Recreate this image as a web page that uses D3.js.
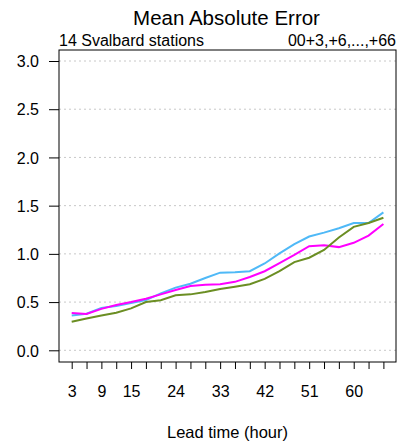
<!DOCTYPE html>
<html><head><meta charset="utf-8">
<script src="https://cdn.jsdelivr.net/npm/d3@7"></script>
<style>body{margin:0;background:#fff}svg{display:block;font-family:"Liberation Sans",Arial,sans-serif}</style>
</head><body>
<svg id="c" width="408" height="445"></svg>
<script>
const leadTimes = [3,6,9,12,15,18,21,24,27,30,33,36,39,42,45,48,51,54,57,60,63,66];
const xLabels = [3,9,15,24,33,42,51,60];
const yTicks = [0,0.5,1,1.5,2,2.5,3];
const seriesCyan =    [0.36,0.38,0.44,0.46,0.49,0.52,0.59,0.65,0.69,0.75,0.805,0.81,0.82,0.90,1.005,1.10,1.18,1.22,1.265,1.32,1.32,1.43];
const seriesMagenta = [0.387,0.377,0.43,0.47,0.50,0.535,0.58,0.625,0.667,0.68,0.685,0.71,0.76,0.82,0.905,0.99,1.08,1.09,1.07,1.115,1.19,1.31];
const seriesGreen =   [0.297,0.33,0.36,0.39,0.435,0.50,0.52,0.57,0.58,0.605,0.636,0.66,0.685,0.74,0.82,0.915,0.96,1.04,1.17,1.28,1.32,1.375];
const colors = {cyan:"#4fb9f7", magenta:"#ff00ff", green:"#6b8e23"};

const svg = d3.select("#c");
const box = {l:59, r:396, t:50, b:362};
const x = d3.scaleLinear().domain([3,66]).range([71.7,383.4]);
const y = d3.scaleLinear().domain([0,3]).range([350.3,61]);
const FF = "Liberation Sans, Arial, sans-serif";

// grid
svg.append("g").selectAll("line").data(yTicks).join("line")
  .attr("x1",box.l).attr("x2",box.r).attr("y1",d=>y(d)).attr("y2",d=>y(d))
  .attr("stroke","#c8c8c8").attr("stroke-dasharray","2,3").attr("stroke-width",1);

// y axis
const ya = svg.append("g").attr("transform",`translate(${box.l},0)`)
  .call(d3.axisLeft(y).tickValues(yTicks).tickFormat(d3.format(".1f")).tickSize(10).tickPadding(10));
ya.select(".domain").remove();
ya.selectAll("text").attr("font-size",16).attr("fill","#000").attr("font-family",FF).attr("dy","0.36em");
ya.selectAll("line").attr("stroke","#000");

// x axis ticks
const xa = svg.append("g").attr("transform",`translate(0,${box.b})`)
  .call(d3.axisBottom(x).tickValues(leadTimes).tickSize(7).tickFormat(d=>xLabels.includes(d)?d:""));
xa.select(".domain").remove();
xa.selectAll("text").attr("font-size",16).attr("fill","#000").attr("y",35).attr("dy",null).attr("font-family",FF);
xa.selectAll("line").attr("stroke","#000");

// lines
const line = d3.line().x((d,i)=>x(leadTimes[i])).y(d=>y(d));
[[seriesCyan,colors.cyan],[seriesMagenta,colors.magenta],[seriesGreen,colors.green]].forEach(([s,c])=>{
  svg.append("path").datum(s).attr("d",line).attr("fill","none").attr("stroke",c).attr("stroke-width",2);
});

// box
svg.append("rect").attr("x",box.l).attr("y",box.t).attr("width",box.r-box.l).attr("height",box.b-box.t)
  .attr("fill","none").attr("stroke","#000").attr("stroke-width",1);

// texts
svg.append("text").attr("x",226.5).attr("y",25).attr("text-anchor","middle").attr("font-size",20.5).text("Mean Absolute Error");
svg.append("text").attr("x",box.l).attr("y",46).attr("font-size",16).text("14 Svalbard stations");
svg.append("text").attr("x",box.r).attr("y",46).attr("text-anchor","end").attr("font-size",16).text("00+3,+6,...,+66");
svg.append("text").attr("x",227.5).attr("y",437.5).attr("text-anchor","middle").attr("font-size",16.5).text("Lead time (hour)");
</script>
</body></html>
